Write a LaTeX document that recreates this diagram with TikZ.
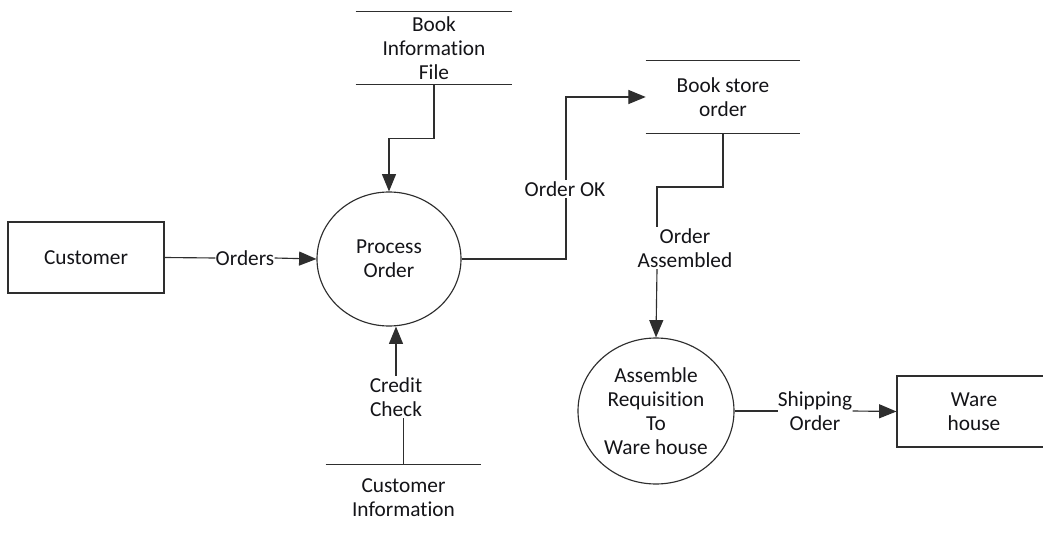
\documentclass[tikz,border=0pt]{standalone}
\usepackage{fontspec}
\setmainfont{Carlito}[Ligatures=NoCommon]
\usetikzlibrary{arrows.meta,shapes.geometric}
\definecolor{ink}{HTML}{141418}
\definecolor{wire}{HTML}{2E2E2E}
\tikzset{
  every node/.style={font=\fontsize{16}{18}\selectfont, text=ink, align=center},
  flow/.style={draw=wire, line width=0.85pt},
  arr/.style={flow, -{Triangle[length=13pt,width=10.5pt]}},
  entity/.style={draw=wire, line width=0.85pt, rectangle, inner sep=0pt},
  process/.style={draw=wire, line width=0.85pt, ellipse, inner sep=0pt},
  store/.style={inner sep=0pt},
  lbl/.style={inner sep=1pt},
}
\begin{document}
\begin{tikzpicture}[x=0.75pt,y=-0.75pt]
\clip (0,0) rectangle (1043,535);
\fill[white] (0,0) rectangle (1043,535);

% external entities
\node[entity, minimum width=156*0.75pt, minimum height=71*0.75pt] (cust) at (86,257.5) {Customer};
\node[entity, minimum width=154*0.75pt, minimum height=71*0.75pt] (wh) at (974,411.5) {Ware\\house};

% processes
\node[process, minimum width=144*0.75pt, minimum height=134*0.75pt] (po) at (389,259) {Process\\Order};
\node[process, minimum width=156*0.75pt, minimum height=146*0.75pt] (ar) at (656,411) {Assemble\\Requisition\\To\\Ware house};

% data stores
\node[store, minimum width=156*0.75pt, minimum height=72*0.75pt] (bif) at (434,48) {Book\\Information\\File};
\draw[flow] (bif.north west) -- (bif.north east);
\draw[flow] (bif.south west) -- (bif.south east);

\node[store, minimum width=154*0.75pt, minimum height=72*0.75pt] (bso) at (723,97) {Book store\\order};
\draw[flow] (bso.north west) -- (bso.north east);
\draw[flow] (bso.south west) -- (bso.south east);

\node[store, minimum width=155*0.75pt, minimum height=66*0.75pt] (ci) at (403.5,498) {Customer\\Information};
\draw[flow] (ci.north west) -- (ci.north east);

% flow labels
\node[lbl, inner xsep=0pt] (ord) at (245,258) {Orders};
\node[lbl] (ok) at (565,189) {Order OK};
\node[lbl] (oa) at (685,248) {Order\\Assembled};
\node[lbl] (cc) at (396,397) {Credit\\Check};
\node[lbl, inner xsep=0pt] (so) at (815,411) {Shipping\\Order};

% data flows
\draw[flow] (cust.east) -- (ord.west);
\draw[arr] (ord.east) -- (po.west);

\draw[arr] (bif.south) -- ++(0,54) -| (po.north);

\draw[flow] (po.east) -| (ok.south -| 566,0);
\draw[arr] (ok.north -| 566,0) |- (bso.west);

\coordinate (turn) at (657,187);
\draw[flow] (bso.south) |- (turn) -- (turn |- oa.north);
\draw[arr] (turn |- oa.south) -- (ar.north);

\draw[flow] (ci.north) -- (ci.north |- cc.south);
\draw[arr] (cc.north) -- (cc.north |- po.south);

\draw[flow] (ar.east) -- (so.west);
\draw[arr] (so.east) -- (wh.west);
\end{tikzpicture}
\end{document}
